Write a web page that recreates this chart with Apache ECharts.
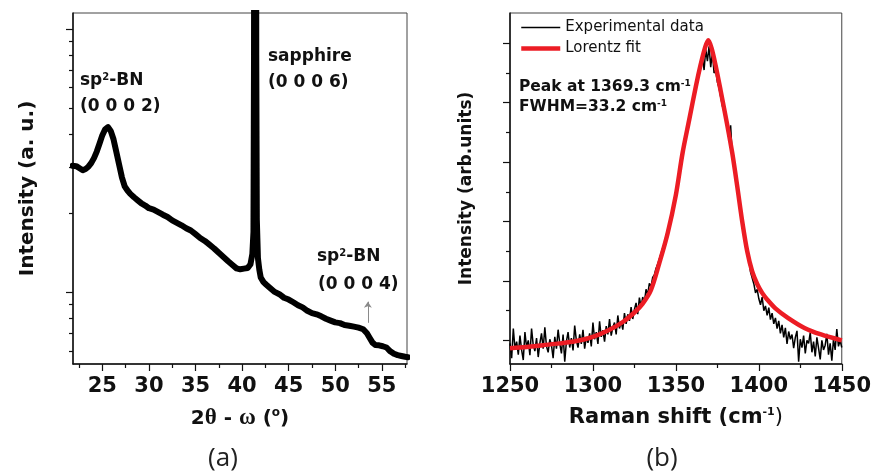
<!DOCTYPE html>
<html><head><meta charset="utf-8">
<script src="https://cdn.jsdelivr.net/npm/echarts@6/dist/echarts.min.js"></script>
<style>html,body{margin:0;padding:0;background:#fff}#c{width:874px;height:471px}</style>
</head><body><div id="c"></div>
<script>
// ---------- Panel (a): XRD 2theta-omega scan ----------
const xrdAngle = [21.8,22.2,22.6,22.9,23.2,23.5,23.8,24.1,24.4,24.7,25.0,25.3,25.6,25.9,26.2,26.5,26.8,27.1,27.4,27.7,28.0,28.4,28.8,29.2,29.6,30.0,30.5,31.0,31.5,32.0,32.5,33.0,33.5,34.0,34.5,35.0,35.5,36.0,36.5,37.0,37.5,38.0,38.5,39.0,39.4,39.8,40.2,40.6,40.9,41.1,41.22,41.28,41.3,41.4,41.5,41.52,41.58,41.7,41.85,42.0,42.3,42.6,43.0,43.5,44.0,44.5,45.0,45.5,46.0,46.5,47.0,47.5,48.0,48.5,49.0,49.5,50.0,50.5,51.0,51.5,52.0,52.5,53.0,53.4,53.7,54.0,54.3,54.7,55.1,55.5,55.9,56.3,56.7,57.1,57.5,57.8];
const xrdIntensity = [3030,3020,2960,2915,2945,3005,3100,3240,3430,3680,3960,4170,4250,4110,3820,3420,3060,2740,2530,2440,2370,2300,2240,2180,2140,2090,2065,2020,1975,1935,1880,1840,1800,1755,1720,1665,1610,1570,1520,1470,1415,1365,1315,1270,1235,1225,1232,1238,1280,1400,1700,8000,60000,600000,60000,8000,1900,1350,1220,1140,1095,1070,1040,1005,985,955,940,918,895,878,852,835,826,812,795,782,770,765,752,748,742,735,725,700,672,645,632,630,625,618,598,585,578,574,570,568];
const xrdXMajorTicks = [25,30,35,40,45,50,55];
const xrdXMinorTicks = [22.5,27.5,32.5,37.5,42.5,47.5,52.5,57.5];
const xrdYMajorTicks = [1000,10000];
const xrdYMinorTicks = [600,700,800,900,2000,3000,4000,5000,6000,7000,8000,9000];
const xrdArrowAngle = 53.5;
const xrdArrowFrom = 767;
const xrdArrowTo = 923;

// ---------- Panel (b): Raman spectrum ----------
const ramanShift = [1250,1251,1252,1253,1254,1255,1256,1257,1258,1259,1260,1261,1262,1263,1264,1265,1266,1267,1268,1269,1270,1271,1272,1273,1274,1275,1276,1277,1278,1279,1280,1281,1282,1283,1284,1285,1286,1287,1288,1289,1290,1291,1292,1293,1294,1295,1296,1297,1298,1299,1300,1301,1302,1303,1304,1305,1306,1307,1308,1309,1310,1311,1312,1313,1314,1315,1316,1317,1318,1319,1320,1321,1322,1323,1324,1325,1326,1327,1328,1329,1330,1331,1332,1333,1334,1335,1336,1337,1338,1339,1340,1341,1342,1343,1344,1345,1346,1347,1348,1349,1350,1351,1352,1353,1354,1355,1356,1357,1358,1359,1360,1361,1362,1363,1364,1365,1366,1367,1368,1369,1370,1371,1372,1373,1374,1375,1376,1377,1378,1379,1380,1381,1382,1383,1384,1385,1386,1387,1388,1389,1390,1391,1392,1393,1394,1395,1396,1397,1398,1399,1400,1401,1402,1403,1404,1405,1406,1407,1408,1409,1410,1411,1412,1413,1414,1415,1416,1417,1418,1419,1420,1421,1422,1423,1424,1425,1426,1427,1428,1429,1430,1431,1432,1433,1434,1435,1436,1437,1438,1439,1440,1441,1442,1443,1444,1445,1446,1447,1448,1449,1450];
const ramanExperimental = [
-0.05,-0.3,0.2,-0.14,-0.02,-0.24,0.08,-0.16,-0.33,0.14,
-0.12,0.0,-0.25,0.2,-0.08,-0.18,0.04,-0.28,-0.05,0.12,
-0.14,0.22,-0.1,-0.2,0.02,-0.08,-0.3,0.06,-0.14,0.18,
-0.05,-0.22,0.1,-0.36,-0.02,0.14,-0.12,0.04,-0.17,0.25,
0.0,-0.12,0.1,-0.06,0.18,-0.14,0.06,-0.04,0.12,-0.1,
0.3,0.02,0.14,-0.06,0.32,0.06,0.17,-0.02,0.24,0.1,
0.36,0.08,0.22,0.3,0.1,0.42,0.2,0.32,0.18,0.46,
0.28,0.44,0.33,0.56,0.36,0.52,0.63,0.44,0.72,0.57,
0.73,0.64,0.86,0.77,0.96,0.9,1.06,1.1,1.21,1.28,
1.3,1.46,1.55,1.63,1.75,1.86,1.95,2.06,2.2,2.3,
2.45,2.6,2.76,2.95,3.1,3.3,3.45,3.6,3.76,3.9,
4.0,4.16,4.25,4.4,4.5,4.62,4.76,4.55,4.9,4.7,
4.95,4.6,4.86,4.5,4.55,4.35,4.25,4.1,3.95,3.85,
3.72,3.55,3.4,3.62,3.1,2.98,2.8,2.6,2.45,2.25,
2.05,1.88,1.7,1.5,1.35,1.15,1.05,0.95,0.8,0.86,
0.7,0.6,0.73,0.5,0.58,0.42,0.55,0.35,0.46,0.28,
0.38,0.2,0.33,0.12,0.26,0.05,0.21,-0.06,0.15,0.02,
0.1,-0.13,0.05,0.16,-0.36,0.02,-0.12,0.08,-0.22,0.0,
-0.05,0.13,-0.2,-0.02,-0.27,0.05,-0.13,-0.32,0.0,-0.16,
-0.08,0.11,-0.24,-0.05,-0.34,0.02,-0.16,0.19,-0.1,0.0,
-0.12];
const fitShift = [1250,1260,1270,1280,1290,1300,1310,1318,1325,1330,1335,1340,1345,1350,1354,1358,1362,1365,1367.5,1369.5,1371.5,1374,1377,1381,1384,1387,1390,1393,1396,1399,1402,1405,1410,1417.5,1427.5,1437.5,1450];
const fitIntensity = [-0.13,-0.11,-0.08,-0.05,-0.01,0.06,0.18,0.31,0.47,0.62,0.85,1.3,1.8,2.45,3.15,3.71,4.27,4.65,4.92,5.05,4.92,4.62,4.2,3.62,3.15,2.59,2.0,1.5,1.16,0.95,0.8,0.69,0.54,0.38,0.21,0.10,0.0];
const ramanXMajorTicks = [1250,1300,1350,1400,1450];
const ramanXMinorTicks = [1275,1325,1375,1425];
const ramanYMajorTicks = [0,1,2,3,4,5];
const ramanYMinorTicks = [0.5,1.5,2.5,3.5,4.5];

const zip = (a, b) => a.map((v, i) => [v, b[i]]);

const FONT = 'DejaVu Sans';
const INK = '#111';
const RED = '#ec1c24';
const tickLabel = {fontFamily: FONT, fontWeight: 'bold', fontSize: 21, color: INK, margin: 12,
                   formatter: (v) => String(v)};

function xAxes(grid, min, max, major, minor, name, rich, gap) {
  return [
    {type: 'value', gridIndex: grid, position: 'bottom', min: min, max: max,
     axisLine: {show: true, onZero: false, lineStyle: {color: INK, width: 1.5}},
     axisTick: {show: true, customValues: major, length: 7, lineStyle: {color: INK, width: 1.2}},
     axisLabel: Object.assign({customValues: major}, tickLabel),
     splitLine: {show: false},
     name: name, nameLocation: 'middle', nameGap: gap,
     nameTextStyle: {fontFamily: FONT, fontWeight: 'bold', fontSize: 21, color: INK, rich: rich}},
    {type: 'value', gridIndex: grid, position: 'bottom', min: min, max: max,
     axisLine: {show: false, onZero: false},
     axisTick: {show: true, customValues: minor, length: 4, lineStyle: {color: INK, width: 1.2}},
     axisLabel: {show: false}, splitLine: {show: false}}
  ];
}
function yAxes(grid, type, min, max, major, minor, name, size, gap) {
  return [
    {type: type, gridIndex: grid, position: 'left', min: min, max: max,
     axisLine: {show: true, onZero: false, lineStyle: {color: INK, width: 1.5}},
     axisTick: {show: true, customValues: major, length: 7, lineStyle: {color: INK, width: 1.2}},
     axisLabel: {show: false}, splitLine: {show: false},
     name: name, nameLocation: 'middle', nameGap: gap,
     nameTextStyle: {fontFamily: FONT, fontWeight: 'bold', fontSize: size, color: INK}},
    {type: type, gridIndex: grid, position: 'left', min: min, max: max,
     axisLine: {show: false, onZero: false},
     axisTick: {show: true, customValues: minor, length: 4, lineStyle: {color: INK, width: 1.2}},
     axisLabel: {show: false}, splitLine: {show: false}}
  ];
}

const nameRichA = {
  n: {fontFamily: FONT, fontWeight: 'bold', fontSize: 20, color: INK},
  g: {fontFamily: 'Liberation Serif', fontWeight: 'bold', fontSize: 23, color: INK},
  s: {fontFamily: FONT, fontWeight: 'bold', fontSize: 12, color: INK, verticalAlign: 'top'}
};
const nameRichB = {
  n: {fontFamily: FONT, fontWeight: 'bold', fontSize: 21, color: INK},
  s: {fontFamily: FONT, fontWeight: 'bold', fontSize: 11, color: INK, verticalAlign: 'top'},
  p: {fontFamily: FONT, fontWeight: 'normal', fontSize: 21, color: INK}
};

const annRich = (size) => ({
  t: {fontFamily: FONT, fontWeight: 'bold', fontSize: size, fill: INK},
  s: {fontFamily: FONT, fontWeight: 'bold', fontSize: Math.round(size * 0.6), fill: INK, verticalAlign: 'top'}
});
function ann(x, y, text, size) {
  return {type: 'text', x: x, y: y, silent: true,
    style: {text: text, rich: annRich(size), verticalAlign: 'middle', align: 'left', fill: INK,
            fontFamily: FONT, fontWeight: 'bold', fontSize: size}};
}

const hiddenSymbol = {color: 'rgba(0,0,0,0)', borderColor: 'rgba(0,0,0,0)', borderWidth: 0, opacity: 0};

const chart = echarts.init(document.getElementById('c'), null, {renderer: 'canvas'});
chart.setOption({
  animation: false,
  backgroundColor: '#fff',
  grid: [
    {left: 73, top: 13, width: 334, height: 351, show: true, borderColor: '#444', borderWidth: 1, containLabel: false},
    {left: 510, top: 13, width: 334, height: 351, show: true, borderColor: '#444', borderWidth: 1, containLabel: false}
  ],
  xAxis: [].concat(
    xAxes(0, 21.85, 57.7, xrdXMajorTicks, xrdXMinorTicks, '{n|2}{g|θ}{n| - }{g|ω}{n| (}{s|o}{n|)}', nameRichA, 43),
    xAxes(1, 1250, 1450, ramanXMajorTicks, ramanXMinorTicks, '{n|Raman shift (cm}{s|-1}{p|)}', nameRichB, 43)
  ),
  yAxis: [].concat(
    yAxes(0, 'log', 535, 11530, xrdYMajorTicks, xrdYMinorTicks, 'Intensity (a. u.)', 20, 35),
    yAxes(1, 'value', -0.397, 5.51, ramanYMajorTicks, ramanYMinorTicks, 'Intensity (arb.units)', 17, 35)
  ),
  legend: {
    data: [
      {name: 'Experimental data', itemStyle: hiddenSymbol, lineStyle: {color: '#000', width: 1.6}},
      {name: 'Lorentz fit', itemStyle: hiddenSymbol, lineStyle: {color: RED, width: 4.5}}
    ],
    orient: 'vertical', left: 519, top: 20, padding: 0,
    itemWidth: 39, itemHeight: 10, itemGap: 6,
    textStyle: {fontFamily: FONT, fontSize: 15, color: INK}
  },
  series: [
    {type: 'line', name: 'XRD', xAxisIndex: 0, yAxisIndex: 0, data: zip(xrdAngle, xrdIntensity),
     symbol: 'none', clip: true, itemStyle: {color: '#000'},
     lineStyle: {color: '#000', width: 6, join: 'round', cap: 'round'},
     markLine: {silent: true, symbol: ['none', 'arrow'], symbolSize: 6,
       lineStyle: {color: '#8a8a8a', width: 1, type: 'solid'}, label: {show: false},
       data: [[{coord: [xrdArrowAngle, xrdArrowFrom]}, {coord: [xrdArrowAngle, xrdArrowTo]}]]}},
    {type: 'line', name: 'Experimental data', xAxisIndex: 2, yAxisIndex: 2, data: zip(ramanShift, ramanExperimental),
     symbol: 'none', clip: true, itemStyle: {color: '#000'}, lineStyle: {color: '#000', width: 1.5}},
    {type: 'line', name: 'Lorentz fit', xAxisIndex: 2, yAxisIndex: 2, data: zip(fitShift, fitIntensity),
     symbol: 'none', clip: true, smooth: 0.3, itemStyle: {color: RED}, lineStyle: {color: RED, width: 4.5}}
  ],
  graphic: [
    ann(80, 81, '{t|sp}{s|2}{t|-BN}', 17),
    ann(80, 106.5, '{t|(0 0 0 2)}', 17),
    ann(268, 57, '{t|sapphire}', 17),
    ann(268, 82.5, '{t|(0 0 0 6)}', 17),
    ann(317, 257, '{t|sp}{s|2}{t|-BN}', 17),
    ann(318, 285, '{t|(0 0 0 4)}', 17),
    ann(519, 87, '{t|Peak at 1369.3 cm}{s|-1}', 15.5),
    ann(519, 107, '{t|FWHM=33.2 cm}{s|-1}', 15.5),
    {type: 'text', x: 223, y: 459, silent: true,
     style: {text: '(a)', fontFamily: 'Open Sans', fontSize: 26, fill: '#222', align: 'center', verticalAlign: 'middle'}},
    {type: 'text', x: 662, y: 459, silent: true,
     style: {text: '(b)', fontFamily: 'Open Sans', fontSize: 26, fill: '#222', align: 'center', verticalAlign: 'middle'}}
  ]
});
</script>
</body></html>
